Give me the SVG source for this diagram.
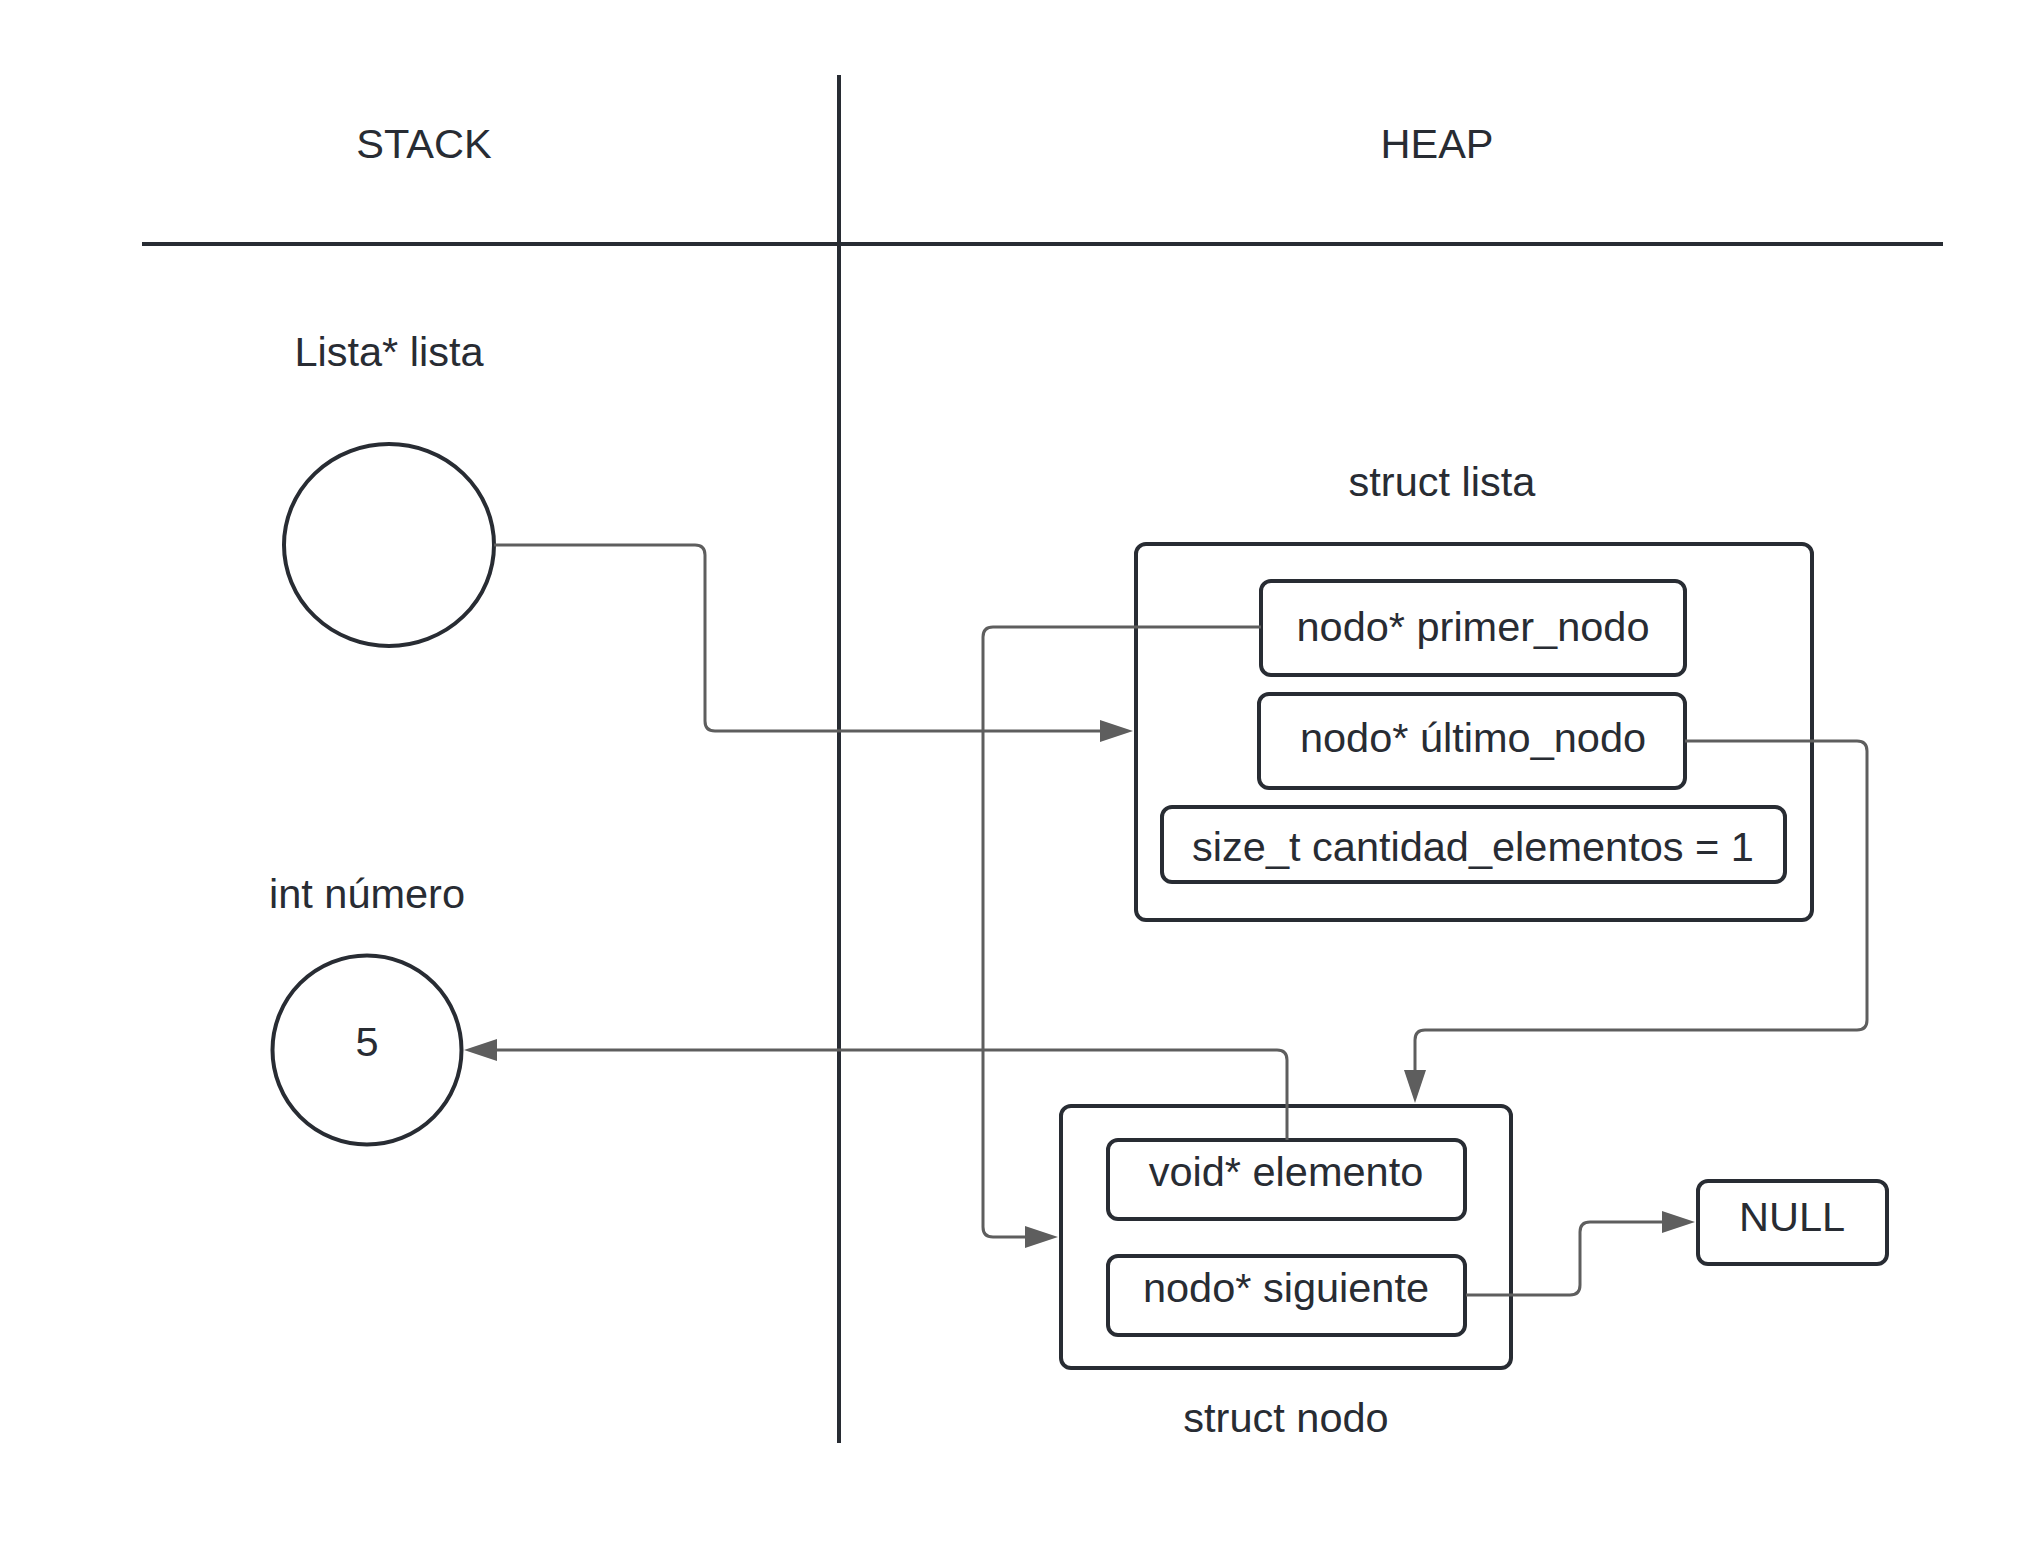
<svg xmlns="http://www.w3.org/2000/svg" width="2018" height="1556" viewBox="0 0 2018 1556">
<style>
.t{font-family:"Liberation Sans",Arial,sans-serif;font-size:41.5px;fill:#282c33;text-anchor:middle}
.box{fill:#ffffff;stroke:#282c33;stroke-width:4}
.div{stroke:#282c33;stroke-width:4;fill:none}
.con{fill:none;stroke:#5e5e5e;stroke-width:3}
</style>
<defs>
<marker id="arr" markerUnits="userSpaceOnUse" markerWidth="34" markerHeight="24" refX="0" refY="12" orient="auto">
<path d="M0,1 L33,12 L0,23 Z" fill="#5e5e5e"/>
</marker>
</defs>
<rect width="2018" height="1556" fill="#ffffff"/>
<g id="dividers">
<line class="div" x1="142" y1="244" x2="1943" y2="244"/>
<line class="div" x1="839" y1="75" x2="839" y2="1443"/>
<text class="t" x="424" y="158">STACK</text>
<text class="t" x="1437" y="158">HEAP</text>
</g>
<g id="lista-ptr">
<text class="t" x="389" y="366">Lista* lista</text>
<ellipse class="box" cx="389" cy="545" rx="105" ry="101"/>
</g>
<g id="int-numero">
<text class="t" x="367" y="908">int número</text>
<circle class="box" cx="367" cy="1050" r="94.5"/>
<text class="t" x="367" y="1056">5</text>
</g>
<g id="struct-lista">
<text class="t" x="1442" y="496">struct lista</text>
<rect class="box" x="1136" y="544" width="676" height="376" rx="10"/>
<g id="primer-nodo">
<rect class="box" x="1261" y="581" width="424" height="94" rx="10"/>
<text class="t" x="1473" y="641">nodo* primer_nodo</text>
</g>
<g id="ultimo-nodo">
<rect class="box" x="1259" y="694" width="426" height="94" rx="10"/>
<text class="t" x="1473" y="752">nodo* último_nodo</text>
</g>
<g id="cantidad">
<rect class="box" x="1162" y="807" width="623" height="75" rx="10"/>
<text class="t" x="1473" y="861">size_t cantidad_elementos = 1</text>
</g>
</g>
<g id="struct-nodo">
<rect class="box" x="1061" y="1106" width="450" height="262" rx="10"/>
<g id="elemento">
<rect class="box" x="1108" y="1140" width="357" height="79" rx="10"/>
<text class="t" x="1286" y="1186">void* elemento</text>
</g>
<g id="siguiente">
<rect class="box" x="1108" y="1256" width="357" height="79" rx="10"/>
<text class="t" x="1286" y="1302">nodo* siguiente</text>
</g>
<text class="t" x="1286" y="1432">struct nodo</text>
</g>
<g id="null">
<rect class="box" x="1698" y="1181" width="189" height="83" rx="10"/>
<text class="t" x="1792" y="1231">NULL</text>
</g>
<g id="connectors">
<path class="con" marker-end="url(#arr)" d="M494,545 H695 Q705,545 705,555 V721 Q705,731 715,731 H1100"/>
<path class="con" marker-end="url(#arr)" d="M1261,627 H993 Q983,627 983,637 V1227 Q983,1237 993,1237 H1025"/>
<path class="con" marker-end="url(#arr)" d="M1685,741 H1857 Q1867,741 1867,751 V1020 Q1867,1030 1857,1030 H1425 Q1415,1030 1415,1040 V1070"/>
<path class="con" marker-end="url(#arr)" d="M1287,1140 V1060 Q1287,1050 1277,1050 H497"/>
<path class="con" marker-end="url(#arr)" d="M1466,1295 H1570 Q1580,1295 1580,1285 V1232 Q1580,1222 1590,1222 H1662"/>
</g>
</svg>
